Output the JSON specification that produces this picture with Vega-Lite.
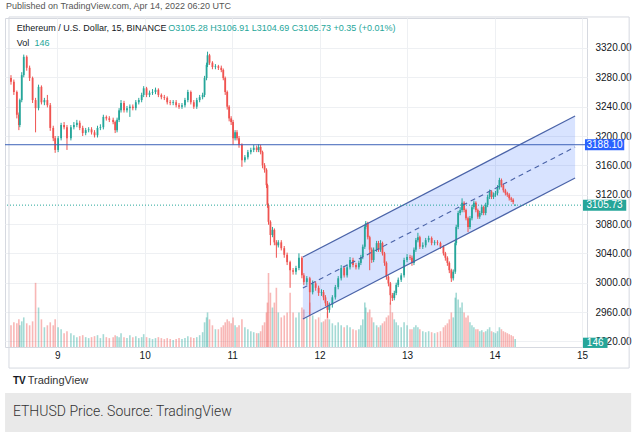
{
"$schema": "https://vega.github.io/schema/vega-lite/v6.json",
"width": 582, "height": 329,
"autosize": {"type": "none"},
"padding": {"left": 5, "top": 18, "right": 50, "bottom": 85},
"background": "white",
"config": {"font": "Liberation Sans", "view": {"stroke": "#d6d9e0"}},
"title": {"text": "Published on TradingView.com, Apr 14, 2022 06:20 UTC", "anchor": "start", "frame": "group", "offset": 5, "fontSize": 9, "fontWeight": "normal", "color": "#555555", "dx": 1},
"datasets": {
"candles": [
{"t":8.472,"o":3279,"h":3283,"l":3270,"c":3274,"v":396},
{"t":8.505,"o":3274,"h":3277,"l":3256,"c":3260,"v":450},
{"t":8.539,"o":3260,"h":3262,"l":3224,"c":3229,"v":432},
{"t":8.562,"o":3229,"h":3232,"l":3208,"c":3215,"v":504},
{"t":8.573,"o":3215,"h":3251,"l":3212,"c":3249,"v":396},
{"t":8.595,"o":3249,"h":3287,"l":3246,"c":3283,"v":468},
{"t":8.618,"o":3283,"h":3311,"l":3280,"c":3308,"v":540},
{"t":8.652,"o":3308,"h":3310,"l":3289,"c":3293,"v":432},
{"t":8.685,"o":3293,"h":3296,"l":3275,"c":3279,"v":396},
{"t":8.719,"o":3279,"h":3281,"l":3245,"c":3249,"v":468},
{"t":8.753,"o":3249,"h":3252,"l":3205,"c":3238,"v":1170},
{"t":8.787,"o":3238,"h":3270,"l":3235,"c":3267,"v":720},
{"t":8.820,"o":3267,"h":3269,"l":3243,"c":3246,"v":504},
{"t":8.854,"o":3246,"h":3252,"l":3242,"c":3249,"v":360},
{"t":8.888,"o":3249,"h":3256,"l":3239,"c":3242,"v":396},
{"t":8.921,"o":3242,"h":3245,"l":3207,"c":3211,"v":450},
{"t":8.955,"o":3211,"h":3214,"l":3193,"c":3197,"v":396},
{"t":8.977,"o":3197,"h":3200,"l":3177,"c":3181,"v":504},
{"t":9.011,"o":3181,"h":3200,"l":3178,"c":3197,"v":360},
{"t":9.045,"o":3197,"h":3218,"l":3194,"c":3215,"v":324},
{"t":9.079,"o":3215,"h":3219,"l":3209,"c":3212,"v":252},
{"t":9.112,"o":3212,"h":3215,"l":3181,"c":3197,"v":288},
{"t":9.157,"o":3197,"h":3215,"l":3194,"c":3212,"v":252},
{"t":9.191,"o":3212,"h":3219,"l":3209,"c":3215,"v":216},
{"t":9.225,"o":3215,"h":3222,"l":3212,"c":3218,"v":180},
{"t":9.258,"o":3218,"h":3221,"l":3208,"c":3211,"v":198},
{"t":9.292,"o":3211,"h":3214,"l":3200,"c":3204,"v":216},
{"t":9.326,"o":3204,"h":3211,"l":3201,"c":3208,"v":180},
{"t":9.360,"o":3208,"h":3212,"l":3205,"c":3209,"v":162},
{"t":9.393,"o":3209,"h":3212,"l":3202,"c":3205,"v":180},
{"t":9.427,"o":3205,"h":3208,"l":3198,"c":3201,"v":198},
{"t":9.461,"o":3201,"h":3214,"l":3198,"c":3211,"v":216},
{"t":9.494,"o":3211,"h":3216,"l":3208,"c":3212,"v":162},
{"t":9.528,"o":3212,"h":3229,"l":3209,"c":3226,"v":234},
{"t":9.562,"o":3226,"h":3228,"l":3221,"c":3224,"v":180},
{"t":9.596,"o":3224,"h":3227,"l":3219,"c":3222,"v":162},
{"t":9.640,"o":3222,"h":3225,"l":3216,"c":3219,"v":180},
{"t":9.663,"o":3219,"h":3221,"l":3204,"c":3208,"v":216},
{"t":9.685,"o":3208,"h":3225,"l":3205,"c":3222,"v":198},
{"t":9.708,"o":3222,"h":3238,"l":3219,"c":3235,"v":180},
{"t":9.730,"o":3235,"h":3249,"l":3232,"c":3245,"v":252},
{"t":9.764,"o":3245,"h":3248,"l":3232,"c":3235,"v":180},
{"t":9.798,"o":3235,"h":3241,"l":3232,"c":3238,"v":162},
{"t":9.831,"o":3238,"h":3243,"l":3226,"c":3240,"v":216},
{"t":9.865,"o":3240,"h":3243,"l":3235,"c":3238,"v":180},
{"t":9.899,"o":3238,"h":3249,"l":3235,"c":3246,"v":198},
{"t":9.933,"o":3246,"h":3252,"l":3243,"c":3249,"v":162},
{"t":9.966,"o":3249,"h":3259,"l":3246,"c":3256,"v":180},
{"t":9.989,"o":3256,"h":3268,"l":3253,"c":3265,"v":234},
{"t":10.022,"o":3265,"h":3267,"l":3253,"c":3256,"v":180},
{"t":10.056,"o":3256,"h":3262,"l":3253,"c":3259,"v":162},
{"t":10.090,"o":3259,"h":3264,"l":3256,"c":3260,"v":144},
{"t":10.124,"o":3260,"h":3266,"l":3257,"c":3263,"v":162},
{"t":10.157,"o":3263,"h":3265,"l":3253,"c":3256,"v":180},
{"t":10.191,"o":3256,"h":3258,"l":3250,"c":3253,"v":162},
{"t":10.225,"o":3253,"h":3256,"l":3249,"c":3252,"v":144},
{"t":10.258,"o":3252,"h":3254,"l":3243,"c":3246,"v":162},
{"t":10.292,"o":3246,"h":3249,"l":3242,"c":3245,"v":144},
{"t":10.326,"o":3245,"h":3249,"l":3242,"c":3246,"v":126},
{"t":10.360,"o":3246,"h":3249,"l":3239,"c":3242,"v":144},
{"t":10.393,"o":3242,"h":3245,"l":3237,"c":3240,"v":162},
{"t":10.427,"o":3240,"h":3245,"l":3237,"c":3242,"v":144},
{"t":10.461,"o":3242,"h":3252,"l":3239,"c":3249,"v":162},
{"t":10.494,"o":3249,"h":3263,"l":3246,"c":3260,"v":198},
{"t":10.528,"o":3260,"h":3262,"l":3243,"c":3246,"v":180},
{"t":10.562,"o":3246,"h":3249,"l":3237,"c":3240,"v":162},
{"t":10.596,"o":3240,"h":3252,"l":3237,"c":3249,"v":180},
{"t":10.629,"o":3249,"h":3256,"l":3246,"c":3253,"v":216},
{"t":10.663,"o":3253,"h":3259,"l":3250,"c":3256,"v":270},
{"t":10.685,"o":3256,"h":3282,"l":3253,"c":3279,"v":450},
{"t":10.708,"o":3279,"h":3300,"l":3276,"c":3297,"v":540},
{"t":10.719,"o":3297,"h":3315,"l":3294,"c":3310,"v":630},
{"t":10.742,"o":3310,"h":3312,"l":3297,"c":3300,"v":504},
{"t":10.775,"o":3300,"h":3302,"l":3291,"c":3294,"v":396},
{"t":10.809,"o":3294,"h":3298,"l":3291,"c":3295,"v":324},
{"t":10.843,"o":3295,"h":3297,"l":3290,"c":3293,"v":324},
{"t":10.876,"o":3293,"h":3296,"l":3287,"c":3290,"v":360},
{"t":10.899,"o":3290,"h":3292,"l":3276,"c":3279,"v":396},
{"t":10.921,"o":3279,"h":3281,"l":3256,"c":3260,"v":450},
{"t":10.944,"o":3260,"h":3262,"l":3236,"c":3240,"v":504},
{"t":10.966,"o":3240,"h":3242,"l":3220,"c":3224,"v":468},
{"t":10.989,"o":3224,"h":3227,"l":3215,"c":3219,"v":432},
{"t":11.011,"o":3219,"h":3222,"l":3188,"c":3197,"v":540},
{"t":11.034,"o":3197,"h":3208,"l":3194,"c":3205,"v":396},
{"t":11.056,"o":3205,"h":3208,"l":3194,"c":3197,"v":360},
{"t":11.079,"o":3197,"h":3200,"l":3184,"c":3188,"v":396},
{"t":11.112,"o":3188,"h":3190,"l":3158,"c":3167,"v":504},
{"t":11.146,"o":3167,"h":3174,"l":3164,"c":3171,"v":360},
{"t":11.180,"o":3171,"h":3181,"l":3168,"c":3178,"v":324},
{"t":11.214,"o":3178,"h":3184,"l":3175,"c":3181,"v":288},
{"t":11.247,"o":3181,"h":3188,"l":3178,"c":3184,"v":270},
{"t":11.281,"o":3184,"h":3187,"l":3178,"c":3181,"v":252},
{"t":11.303,"o":3181,"h":3189,"l":3178,"c":3185,"v":252},
{"t":11.326,"o":3185,"h":3188,"l":3175,"c":3178,"v":288},
{"t":11.348,"o":3178,"h":3180,"l":3156,"c":3160,"v":396},
{"t":11.371,"o":3160,"h":3163,"l":3150,"c":3154,"v":450},
{"t":11.393,"o":3154,"h":3156,"l":3129,"c":3133,"v":630},
{"t":11.404,"o":3133,"h":3135,"l":3102,"c":3106,"v":810},
{"t":11.416,"o":3106,"h":3108,"l":3079,"c":3083,"v":1350},
{"t":11.438,"o":3083,"h":3085,"l":3051,"c":3065,"v":990},
{"t":11.461,"o":3065,"h":3076,"l":3062,"c":3072,"v":720},
{"t":11.483,"o":3072,"h":3074,"l":3051,"c":3055,"v":810},
{"t":11.506,"o":3055,"h":3058,"l":3034,"c":3051,"v":1080},
{"t":11.528,"o":3051,"h":3058,"l":3048,"c":3055,"v":630},
{"t":11.562,"o":3055,"h":3058,"l":3044,"c":3047,"v":540},
{"t":11.596,"o":3047,"h":3050,"l":3034,"c":3038,"v":576},
{"t":11.629,"o":3038,"h":3041,"l":3024,"c":3028,"v":630},
{"t":11.663,"o":3028,"h":3030,"l":2993,"c":3017,"v":990},
{"t":11.697,"o":3017,"h":3020,"l":3011,"c":3015,"v":630},
{"t":11.730,"o":3015,"h":3023,"l":3011,"c":3020,"v":540},
{"t":11.764,"o":3020,"h":3040,"l":3017,"c":3034,"v":630},
{"t":11.798,"o":3034,"h":3036,"l":3006,"c":3010,"v":720},
{"t":11.820,"o":3010,"h":3013,"l":2997,"c":3001,"v":684},
{"t":11.854,"o":3001,"h":3009,"l":2997,"c":3006,"v":540},
{"t":11.888,"o":3006,"h":3008,"l":2956,"c":2987,"v":810},
{"t":11.921,"o":2987,"h":3003,"l":2984,"c":2999,"v":576},
{"t":11.955,"o":2999,"h":3002,"l":2989,"c":2993,"v":504},
{"t":11.989,"o":2993,"h":2996,"l":2982,"c":2986,"v":540},
{"t":12.022,"o":2986,"h":2991,"l":2982,"c":2987,"v":450},
{"t":12.045,"o":2987,"h":2990,"l":2976,"c":2980,"v":468},
{"t":12.067,"o":2980,"h":2983,"l":2968,"c":2972,"v":504},
{"t":12.090,"o":2972,"h":2975,"l":2952,"c":2963,"v":630},
{"t":12.112,"o":2963,"h":2973,"l":2959,"c":2970,"v":504},
{"t":12.146,"o":2970,"h":2983,"l":2966,"c":2980,"v":432},
{"t":12.180,"o":2980,"h":2997,"l":2977,"c":2994,"v":396},
{"t":12.213,"o":2994,"h":3009,"l":2991,"c":3006,"v":450},
{"t":12.247,"o":3006,"h":3024,"l":3003,"c":3020,"v":396},
{"t":12.281,"o":3020,"h":3023,"l":3007,"c":3010,"v":360},
{"t":12.315,"o":3010,"h":3025,"l":3007,"c":3021,"v":396},
{"t":12.348,"o":3021,"h":3035,"l":3018,"c":3031,"v":360},
{"t":12.382,"o":3031,"h":3034,"l":3021,"c":3024,"v":324},
{"t":12.416,"o":3024,"h":3027,"l":3018,"c":3021,"v":306},
{"t":12.449,"o":3021,"h":3030,"l":3018,"c":3027,"v":324},
{"t":12.472,"o":3027,"h":3038,"l":3024,"c":3035,"v":396},
{"t":12.494,"o":3035,"h":3052,"l":3032,"c":3049,"v":504},
{"t":12.517,"o":3049,"h":3079,"l":3046,"c":3076,"v":810},
{"t":12.528,"o":3076,"h":3084,"l":3073,"c":3081,"v":720},
{"t":12.551,"o":3081,"h":3083,"l":3059,"c":3062,"v":630},
{"t":12.573,"o":3062,"h":3064,"l":3017,"c":3045,"v":684},
{"t":12.596,"o":3045,"h":3048,"l":3027,"c":3031,"v":540},
{"t":12.618,"o":3031,"h":3048,"l":3028,"c":3045,"v":450},
{"t":12.652,"o":3045,"h":3057,"l":3042,"c":3054,"v":396},
{"t":12.674,"o":3054,"h":3057,"l":3042,"c":3045,"v":360},
{"t":12.697,"o":3045,"h":3058,"l":3042,"c":3054,"v":396},
{"t":12.719,"o":3054,"h":3056,"l":3037,"c":3040,"v":432},
{"t":12.742,"o":3040,"h":3042,"l":3023,"c":3027,"v":468},
{"t":12.764,"o":3027,"h":3029,"l":3004,"c":3008,"v":540},
{"t":12.787,"o":3008,"h":3010,"l":2995,"c":2999,"v":576},
{"t":12.809,"o":2999,"h":3001,"l":2970,"c":2983,"v":810},
{"t":12.832,"o":2983,"h":2986,"l":2975,"c":2979,"v":630},
{"t":12.854,"o":2979,"h":2989,"l":2976,"c":2986,"v":504},
{"t":12.876,"o":2986,"h":3000,"l":2983,"c":2997,"v":450},
{"t":12.899,"o":2997,"h":3007,"l":2994,"c":3004,"v":396},
{"t":12.933,"o":3004,"h":3013,"l":3001,"c":3010,"v":360},
{"t":12.966,"o":3010,"h":3034,"l":3007,"c":3031,"v":450},
{"t":13.000,"o":3031,"h":3039,"l":3028,"c":3035,"v":396},
{"t":13.034,"o":3035,"h":3038,"l":3031,"c":3034,"v":324},
{"t":13.056,"o":3034,"h":3037,"l":3023,"c":3027,"v":324},
{"t":13.079,"o":3027,"h":3048,"l":3024,"c":3045,"v":360},
{"t":13.101,"o":3045,"h":3061,"l":3042,"c":3058,"v":396},
{"t":13.124,"o":3058,"h":3068,"l":3055,"c":3062,"v":360},
{"t":13.146,"o":3062,"h":3064,"l":3046,"c":3049,"v":324},
{"t":13.180,"o":3049,"h":3055,"l":3046,"c":3051,"v":288},
{"t":13.213,"o":3051,"h":3061,"l":3048,"c":3058,"v":270},
{"t":13.247,"o":3058,"h":3064,"l":3055,"c":3061,"v":288},
{"t":13.281,"o":3061,"h":3063,"l":3051,"c":3054,"v":270},
{"t":13.315,"o":3054,"h":3058,"l":3051,"c":3055,"v":252},
{"t":13.348,"o":3055,"h":3058,"l":3051,"c":3054,"v":270},
{"t":13.382,"o":3054,"h":3056,"l":3046,"c":3049,"v":288},
{"t":13.416,"o":3049,"h":3051,"l":3037,"c":3040,"v":360},
{"t":13.438,"o":3040,"h":3042,"l":3030,"c":3034,"v":396},
{"t":13.461,"o":3034,"h":3036,"l":3023,"c":3027,"v":432},
{"t":13.483,"o":3027,"h":3029,"l":3013,"c":3017,"v":504},
{"t":13.506,"o":3017,"h":3019,"l":3001,"c":3006,"v":630},
{"t":13.528,"o":3006,"h":3018,"l":3003,"c":3015,"v":540},
{"t":13.551,"o":3015,"h":3057,"l":3012,"c":3054,"v":900},
{"t":13.562,"o":3054,"h":3079,"l":3051,"c":3076,"v":990},
{"t":13.584,"o":3076,"h":3098,"l":3073,"c":3095,"v":864},
{"t":13.607,"o":3095,"h":3103,"l":3092,"c":3099,"v":720},
{"t":13.629,"o":3099,"h":3115,"l":3096,"c":3109,"v":810},
{"t":13.652,"o":3109,"h":3111,"l":3096,"c":3099,"v":630},
{"t":13.674,"o":3099,"h":3101,"l":3085,"c":3088,"v":540},
{"t":13.697,"o":3088,"h":3090,"l":3069,"c":3076,"v":576},
{"t":13.719,"o":3076,"h":3091,"l":3073,"c":3088,"v":450},
{"t":13.742,"o":3088,"h":3106,"l":3085,"c":3103,"v":396},
{"t":13.764,"o":3103,"h":3112,"l":3100,"c":3109,"v":360},
{"t":13.787,"o":3109,"h":3111,"l":3096,"c":3099,"v":324},
{"t":13.809,"o":3099,"h":3101,"l":3087,"c":3090,"v":324},
{"t":13.831,"o":3090,"h":3098,"l":3087,"c":3095,"v":288},
{"t":13.854,"o":3095,"h":3106,"l":3092,"c":3103,"v":306},
{"t":13.876,"o":3103,"h":3105,"l":3092,"c":3095,"v":270},
{"t":13.899,"o":3095,"h":3109,"l":3092,"c":3106,"v":288},
{"t":13.921,"o":3106,"h":3120,"l":3103,"c":3117,"v":324},
{"t":13.944,"o":3117,"h":3127,"l":3114,"c":3124,"v":360},
{"t":13.966,"o":3124,"h":3126,"l":3114,"c":3117,"v":288},
{"t":13.989,"o":3117,"h":3123,"l":3114,"c":3120,"v":270},
{"t":14.011,"o":3120,"h":3125,"l":3117,"c":3122,"v":252},
{"t":14.034,"o":3122,"h":3133,"l":3119,"c":3130,"v":288},
{"t":14.056,"o":3130,"h":3143,"l":3127,"c":3140,"v":360},
{"t":14.079,"o":3140,"h":3142,"l":3130,"c":3133,"v":324},
{"t":14.101,"o":3133,"h":3135,"l":3123,"c":3126,"v":288},
{"t":14.124,"o":3126,"h":3128,"l":3119,"c":3122,"v":270},
{"t":14.146,"o":3122,"h":3124,"l":3117,"c":3120,"v":252},
{"t":14.168,"o":3120,"h":3122,"l":3112,"c":3115,"v":234},
{"t":14.191,"o":3115,"h":3117,"l":3110,"c":3113,"v":216},
{"t":14.213,"o":3113,"h":3115,"l":3107,"c":3110,"v":198},
{"t":14.236,"o":3105.28,"h":3106.91,"l":3104.69,"c":3105.73,"v":146}
],
"channel": [
{"t":11.809,"lo":2950.5,"mid":2992.7,"hi":3035.0},
{"t":14.921,"lo":3142.7,"mid":3185.0,"hi":3227.3}
]
},
"layer": [
{
"data": {"name": "candles"},
"mark": {"type": "bar", "size": 1.6},
"encoding": {
"x": {"field": "t", "type": "quantitative", "title": null, "scale": {"domain": [8.4607, 15.0], "nice": false, "zero": false},
"axis": {"values": [9,10,11,12,13,14,15], "tickCount": 20, "format": "d", "domain": false, "ticks": false, "grid": true, "gridColor": "#eef0f3", "labelPadding": 3, "labelFontSize": 10, "labelColor": "#131722", "labelOverlap": false, "title": null}},
"y": {"field": "v", "type": "quantitative", "title": null, "scale": {"domain": [0, 6000], "nice": false}, "axis": null},
"color": {"condition": {"test": "datum.c >= datum.o", "value": "#26a69a"}, "value": "#ef5350"},
"opacity": {"value": 0.42}
}
},
{
"layer": [
{
"data": {"values": [{}]},
"mark": {"type": "rect", "fillOpacity": 0, "stroke": "#d6d9e0", "strokeWidth": 1},
"encoding": {
"x": {"datum": 8.449, "type": "quantitative"}, "x2": {"datum": 15.539},
"y": {"datum": 3362.3, "type": "quantitative"}, "y2": {"datum": 2883.6}
}
},
{
"data": {"values": [{}]},
"mark": {"type": "rect", "color": "#e9e9e9"},
"encoding": {
"x": {"datum": 8.4045, "type": "quantitative"}, "x2": {"datum": 15.562},
"y": {"datum": 2849.6, "type": "quantitative"}, "y2": {"datum": 2796.4}
}
},
{
"data": {"name": "channel"},
"mark": {"type": "area", "color": "#2962ff", "opacity": 0.18},
"encoding": {
"x": {"field": "t", "type": "quantitative", "title": null},
"y": {"field": "lo", "type": "quantitative", "title": null},
"y2": {"field": "hi"}
}
},
{
"data": {"name": "candles"},
"mark": {"type": "rule", "strokeWidth": 1},
"encoding": {
"x": {"field": "t", "type": "quantitative", "title": null},
"y": {"field": "l", "type": "quantitative", "title": null, "scale": {"domain": [2912.3, 3360.9], "nice": false, "zero": false},
"axis": {"orient": "right", "values": [2920,2960,3000,3040,3080,3120,3160,3200,3240,3280,3320], "tickCount": 20, "format": ".2f", "domain": false, "ticks": false, "grid": true, "gridColor": "#eef0f3", "labelPadding": 8, "labelFontSize": 10, "labelColor": "#131722", "labelOverlap": false, "labelBound": false, "title": null}},
"y2": {"field": "h"},
"color": {"condition": {"test": "datum.c >= datum.o", "value": "#26a69a"}, "value": "#ef5350"}
}
},
{
"data": {"name": "candles"},
"mark": {"type": "bar", "size": 1.8},
"encoding": {
"x": {"field": "t", "type": "quantitative", "title": null},
"y": {"field": "o", "type": "quantitative", "title": null},
"y2": {"field": "c"},
"color": {"condition": {"test": "datum.c >= datum.o", "value": "#26a69a"}, "value": "#ef5350"}
}
},
{
"data": {"name": "channel"},
"mark": {"type": "line", "color": "#4a63a8", "strokeWidth": 1.2},
"encoding": {
"x": {"field": "t", "type": "quantitative", "title": null},
"y": {"field": "hi", "type": "quantitative", "title": null}
}
},
{
"data": {"name": "channel"},
"mark": {"type": "line", "color": "#4a63a8", "strokeWidth": 1.2},
"encoding": {
"x": {"field": "t", "type": "quantitative", "title": null},
"y": {"field": "lo", "type": "quantitative", "title": null}
}
},
{
"data": {"name": "channel"},
"mark": {"type": "line", "color": "#4a63a8", "strokeWidth": 1.1, "strokeDash": [5, 4]},
"encoding": {
"x": {"field": "t", "type": "quantitative", "title": null},
"y": {"field": "mid", "type": "quantitative", "title": null}
}
},
{
"data": {"values": [{}]},
"mark": {"type": "rule", "color": "#3d62b8", "strokeWidth": 1},
"encoding": {"y": {"datum": 3188.1, "type": "quantitative"}}
},
{
"data": {"values": [{}]},
"mark": {"type": "rule", "color": "#26a69a", "strokeWidth": 1, "strokeDash": [1, 2]},
"encoding": {"y": {"datum": 3105.73, "type": "quantitative"}}
},
{
"data": {"values": [{"label": "Ethereum / U.S. Dollar, 15, BINANCE"}]},
"mark": {"type": "text", "align": "left", "baseline": "middle", "fontSize": 9, "color": "#131722"},
"encoding": {"x": {"datum": 8.539, "type": "quantitative"}, "y": {"datum": 3347.3, "type": "quantitative"}, "text": {"field": "label"}}
},
{
"data": {"values": [{"label": "O3105.28  H3106.91  L3104.69  C3105.73  +0.35 (+0.01%)"}]},
"mark": {"type": "text", "align": "left", "baseline": "middle", "fontSize": 9, "color": "#26a69a"},
"encoding": {"x": {"datum": 10.270, "type": "quantitative"}, "y": {"datum": 3347.3, "type": "quantitative"}, "text": {"field": "label"}}
},
{
"data": {"values": [{"label": "Vol"}]},
"mark": {"type": "text", "align": "left", "baseline": "middle", "fontSize": 9, "color": "#131722"},
"encoding": {"x": {"datum": 8.539, "type": "quantitative"}, "y": {"datum": 3326.8, "type": "quantitative"}, "text": {"field": "label"}}
},
{
"data": {"values": [{"label": "146"}]},
"mark": {"type": "text", "align": "left", "baseline": "middle", "fontSize": 9, "color": "#26a69a"},
"encoding": {"x": {"datum": 8.742, "type": "quantitative"}, "y": {"datum": 3326.8, "type": "quantitative"}, "text": {"field": "label"}}
},
{
"data": {"values": [{}]},
"mark": {"type": "rect", "color": "#2962ff"},
"encoding": {"x": {"datum": 15.034, "type": "quantitative"}, "x2": {"datum": 15.483}, "y": {"datum": 3195.6, "type": "quantitative"}, "y2": {"datum": 3180.6}}
},
{
"data": {"values": [{"label": "3188.10"}]},
"mark": {"type": "text", "align": "center", "baseline": "middle", "fontSize": 10, "color": "white"},
"encoding": {"x": {"datum": 15.258, "type": "quantitative"}, "y": {"datum": 3188.1, "type": "quantitative"}, "text": {"field": "label"}}
},
{
"data": {"values": [{}]},
"mark": {"type": "rect", "color": "#26a69a"},
"encoding": {"x": {"datum": 15.011, "type": "quantitative"}, "x2": {"datum": 15.506}, "y": {"datum": 3113.2, "type": "quantitative"}, "y2": {"datum": 3098.2}}
},
{
"data": {"values": [{"label": "3105.73"}]},
"mark": {"type": "text", "align": "center", "baseline": "middle", "fontSize": 10, "color": "white"},
"encoding": {"x": {"datum": 15.258, "type": "quantitative"}, "y": {"datum": 3105.73, "type": "quantitative"}, "text": {"field": "label"}}
},
{
"data": {"values": [{}]},
"mark": {"type": "rect", "color": "#26a69a"},
"encoding": {"x": {"datum": 15.011, "type": "quantitative"}, "x2": {"datum": 15.292}, "y": {"datum": 2925.0, "type": "quantitative"}, "y2": {"datum": 2911.0}}
},
{
"data": {"values": [{"label": "146"}]},
"mark": {"type": "text", "align": "center", "baseline": "middle", "fontSize": 10, "color": "white"},
"encoding": {"x": {"datum": 15.151, "type": "quantitative"}, "y": {"datum": 2918.0, "type": "quantitative"}, "text": {"field": "label"}}
},
{
"data": {"values": [{"label": "TV"}]},
"mark": {"type": "text", "align": "left", "baseline": "middle", "fontSize": 10, "fontWeight": "bold", "color": "#131722"},
"encoding": {"x": {"datum": 8.494, "type": "quantitative"}, "y": {"datum": 2865.9, "type": "quantitative"}, "text": {"field": "label"}}
},
{
"data": {"values": [{"label": "TradingView"}]},
"mark": {"type": "text", "align": "left", "baseline": "middle", "fontSize": 11, "color": "#333333"},
"encoding": {"x": {"datum": 8.663, "type": "quantitative"}, "y": {"datum": 2865.9, "type": "quantitative"}, "text": {"field": "label"}}
},
{
"data": {"values": [{"label": "ETHUSD Price. Source: TradingView"}]},
"mark": {"type": "text", "align": "left", "baseline": "middle", "fontSize": 14, "font": "Roboto", "fontWeight": 300, "color": "#333333"},
"encoding": {"x": {"datum": 8.494, "type": "quantitative"}, "y": {"datum": 2823.6, "type": "quantitative"}, "text": {"field": "label"}}
}
]
}
],
"resolve": {"scale": {"y": "independent"}}
}
